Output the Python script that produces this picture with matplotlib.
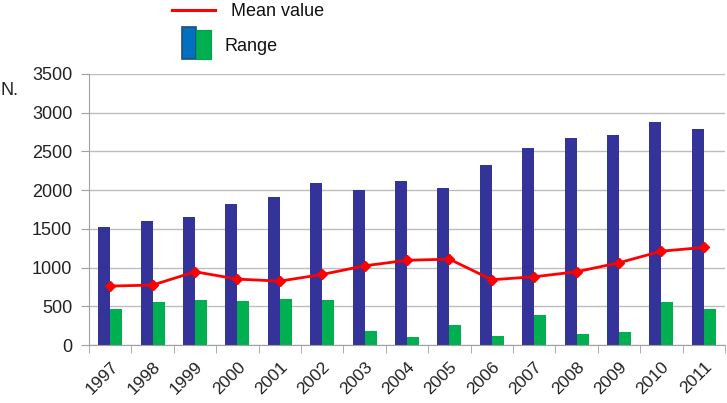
import matplotlib
matplotlib.use("Agg")
import matplotlib.pyplot as plt
import numpy as np
from matplotlib.patches import Rectangle
from matplotlib.lines import Line2D

years = ["1997", "1998", "1999", "2000", "2001", "2002", "2003", "2004",
         "2005", "2006", "2007", "2008", "2009", "2010", "2011"]
blue_vals = [1527, 1600, 1655, 1827, 1913, 2098, 1999, 2118,
             2025, 2330, 2550, 2675, 2713, 2880, 2786]
green_vals = [464, 550, 580, 572, 589, 580, 180, 107,
              258, 116, 387, 142, 163, 550, 464]
mean_vals = [761, 774, 946, 851, 825, 911, 1023, 1094,
             1109, 843, 881, 946, 1062, 1212, 1260]
yticks = [0, 500, 1000, 1500, 2000, 2500, 3000, 3500]

plt.rcParams['font.family'] = ['Liberation Sans', 'DejaVu Sans']

W, H = 727, 403
fig = plt.figure(figsize=(W / 100, H / 100), dpi=100)
ax = fig.add_axes([89 / W, 1 - 345 / H, (725 - 89) / W, (345 - 74) / H])

x = np.arange(len(years))
bw = 0.285
ax.bar(x - bw / 2, blue_vals, width=bw, color="#333399", zorder=2)
ax.bar(x + bw / 2, green_vals, width=bw, color="#00B050", zorder=2)
ax.plot(x, mean_vals, color="#FF0000", lw=2, marker="D", ms=5.5,
        zorder=3)

ax.set_xlim(-0.5, len(years) - 0.5)
ax.set_ylim(0, 3500)
ax.set_yticks(yticks)
ax.set_yticklabels([str(v) for v in yticks], fontsize=13, color="#222222")
ax.yaxis.grid(True, color="#BDBDBD", lw=1, zorder=0)
ax.set_axisbelow(True)

ax.set_xticks(x)
ax.set_xticklabels(years, rotation=45, ha="right", va="top",
                   rotation_mode="anchor", fontsize=12.5, color="#222222")
ax.set_xticks(np.arange(-0.5, len(years), 1), minor=True)
ax.tick_params(axis="x", which="major", length=0, pad=10)
ax.tick_params(axis="x", which="minor", length=6, color="#A0A0A0")
ax.tick_params(axis="y", length=6, color="#A0A0A0", pad=6)

for s in ["top", "right"]:
    ax.spines[s].set_visible(False)
for s in ["left", "bottom"]:
    ax.spines[s].set_color("#A0A0A0")

fig.text(1 / W, 1 - 95 / H, "N.", fontsize=13, color="#222222",
         ha="left", va="baseline")

# Legend (drawn in figure pixel coordinates)
def fx(px):
    return px / W

def fy(py):
    return 1 - py / H

fig.add_artist(Line2D([fx(172), fx(215)], [fy(10), fy(10)],
                      color="#FF0000", lw=2.2))
fig.text(fx(231), fy(16), "Mean value", fontsize=13, color="#111111",
         ha="left", va="baseline")
fig.add_artist(Rectangle((fx(182), fy(59)), fx(14), 32 / H,
                         facecolor="#0070C0", edgecolor="#1F4E79", lw=1.2))
fig.add_artist(Rectangle((fx(196), fy(59)), fx(15), 29 / H,
                         facecolor="#00B050", edgecolor="#00A04A", lw=0.8))
fig.text(fx(224), fy(51), "Range", fontsize=13, color="#111111",
         ha="left", va="baseline")

fig.savefig("out.png", dpi=100)
